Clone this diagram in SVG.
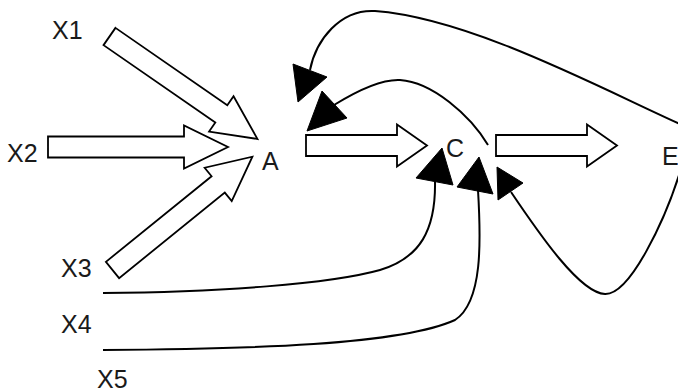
<svg xmlns="http://www.w3.org/2000/svg" width="678" height="392" viewBox="0 0 678 392">
<style>
.lbl{font-family:"Liberation Sans",Arial,sans-serif;font-size:25px;fill:#1a1a1a}
.blk{fill:#fff;stroke:#000;stroke-width:1.8;stroke-linejoin:miter}
.crv{fill:none;stroke:#000;stroke-width:2}
.head{fill:#000;stroke:#000;stroke-width:1;stroke-linejoin:round}
</style>
<defs>
<polygon id="bigArrow" points="0,-10.5 136,-10.5 136,-21.5 180,0 136,21.5 136,10.5 0,10.5"/>
<polygon id="midArrow" points="0,-10.5 91,-10.5 91,-21 121,0 91,21 91,10.5 0,10.5"/>
</defs>
<rect width="678" height="392" fill="#fff"/>
<g id="X1"><text class="lbl" x="52" y="39">X1</text></g>
<g id="X2"><text class="lbl" x="7" y="162">X2</text></g>
<g id="X3"><text class="lbl" x="61" y="277">X3</text></g>
<g id="X4"><text class="lbl" x="61" y="333">X4</text></g>
<g id="X5"><text class="lbl" x="97" y="388">X5</text></g>
<g id="A"><text class="lbl" x="262" y="170">A</text></g>
<g id="C"><text class="lbl" x="446" y="157">C</text></g>
<g id="E"><text class="lbl" x="662" y="165">E</text></g>
<g id="connectors">
<use href="#bigArrow" class="blk" transform="translate(109.5,36.5) rotate(34.7)"/>
<use href="#bigArrow" class="blk" transform="translate(48,147)"/>
<use href="#bigArrow" class="blk" transform="translate(112.5,270) rotate(-39)"/>
<use href="#midArrow" class="blk" transform="translate(306,145.5)"/>
<use href="#midArrow" class="blk" transform="translate(496,145.5)"/>
<path class="crv" d="M 680,124 C 600,88 470,18 375,11 C 340,9 316,40 310,70"/>
<polygon class="head" points="293,64 327,77 298,102"/>
<path class="crv" d="M 488,145 C 470,115 432,82 400,80 C 380,79 355,92 334,105"/>
<polygon class="head" points="322,91 347,118 307,131"/>
<path class="crv" d="M 103,293 C 220,292 330,284 380,270 C 420,258 436,230 435,181"/>
<polygon class="head" points="442,148 416,178 453,185"/>
<path class="crv" d="M 103,350 C 250,349 400,345 455,320 C 483,302 481,240 478,190"/>
<polygon class="head" points="479,157 457,187 493,194"/>
<path class="crv" d="M 680,172 C 665,220 630,295 605,294 C 580,293 540,235 511,192"/>
<polygon class="head" points="497,167 523,183 498,200"/>
</g>
</svg>
